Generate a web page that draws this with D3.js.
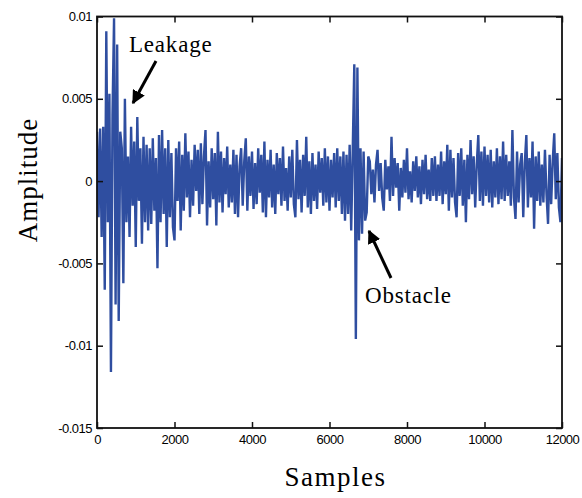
<!DOCTYPE html>
<html>
<head>
<meta charset="utf-8">
<script src="https://cdn.jsdelivr.net/npm/d3@7"></script>
<style>
  body { margin: 0; background: #fff; }
  svg { display: block; }
</style>
</head>
<body>
<svg width="582" height="498"></svg>
<script>
// amplitude readings, in units of 1e-3, one every 40 samples (0 .. 12000)
const ampUnit = 1e-3;
const sampleStep = 40;
const amplitude = [
  3.0, -2.2, 3.2, -3.4, 3.3, -6.6, 9.1, -2.5, 5.3, -11.6,
  4.0, 9.9, -7.5, 8.3, -8.5, 3.0, 2.0, -6.2, 5.0, -2.5,
  1.5, -3.4, 3.3, -1.5, 2.4, -4.0, 3.9, -1.2, 2.0, -3.8,
  2.7, -2.5, 2.2, -3.0, 2.0, -2.6, 2.6, -1.8, 1.4, -5.3,
  2.8, -2.5, 3.1, -2.0, 2.0, -4.0, 2.5, -2.2, 1.7, -2.8,
  -3.6, 2.0, -1.2, 2.4, -3.0, 1.6, -1.8, 2.9, -1.0, 1.8,
  -2.2, 1.3, -1.5, 2.2, -0.6, 1.9, -2.0, 2.3, -1.4, 1.5,
  3.1, -2.7, 1.2, -1.6, 2.0, -1.1, 1.7, -2.7, 3.0, -1.3,
  1.8, -1.9, 1.4, -0.8, 2.1, -1.6, 1.0, -1.3, 1.9, -2.0,
  1.6, -2.2, 0.9, 2.0, -1.5, 1.2, 2.6, -1.8, 1.5, -0.9,
  1.8, -1.7, 1.1, -1.4, 2.0, -0.7, 1.6, -1.9, 2.4, -2.2,
  1.3, -1.0, 1.9, -1.6, 1.0, -2.0, 1.7, -0.8, 1.4, -1.5,
  2.1, -1.2, 0.8, -1.8, 1.5, -1.0, 1.9, -1.4, -2.2, 2.5,
  -1.1, 1.3, -1.9, 1.6, -0.9, 2.7, -1.6, 1.2, -2.0, 1.7,
  -1.2, 1.0, -1.7, 1.8, -0.7, 1.4, -1.5, 2.0, -1.3, 1.5,
  -1.8, 1.3, -1.0, 1.7, -1.6, 2.0, -1.2, 1.5, -2.0, 1.8,
  -2.4, 1.6, -2.0, 2.2, -3.0, 1.9, 7.1, -9.6, 6.9, -3.6,
  2.0, -3.2, 1.8, -2.4, -1.9, 1.5, 1.2, -0.8, 0.7, -1.3,
  1.0, 1.9, -0.6, 1.1, -1.0, -1.8, 1.3, -0.5, 0.9, -1.2,
  2.7, -0.9, 1.4, -0.4, 1.1, -1.8, 0.8, -1.0, 1.3, -0.7,
  2.0, -1.1, 0.6, -1.3, 1.2, -0.6, 1.5, -1.0, 0.9, -1.4,
  1.3, -0.8, 1.6, -1.1, 0.7, -1.2, 1.4, -0.9, 1.5, -1.2,
  1.0, -0.9, 1.8, -1.4, 1.2, -0.8, 2.2, -1.8, 1.9, -1.0,
  1.4, -1.3, -2.2, 1.7, -0.9, 2.0, -1.5, 1.3, -2.5, 1.6,
  -1.1, 2.5, -0.8, 1.5, -1.6, 1.0, 2.8, -1.2, 1.8, -1.5,
  2.1, -0.9, 1.6, -1.3, 1.9, -1.6, 1.2, -1.0, 2.0, -1.4,
  1.5, -1.1, 2.4, -1.2, 1.6, -0.9, 1.2, -1.5, 3.1, -1.0,
  -2.3, 1.8, -1.3, 1.0, 1.7, -2.2, 1.1, 2.8, -1.6, 1.4,
  -1.0, 2.4, -2.9, 1.5, -1.2, 1.8, -1.5, 1.0, -1.3, 1.9,
  -0.8, -2.6, 1.6, -1.4, 1.2, 2.9, -1.1, 1.7, -1.6, -2.5,
  1.4
];

const xTicks = [0, 2000, 4000, 6000, 8000, 10000, 12000];
const xTickLabels = ["0", "2000", "4000", "6000", "8000", "10000", "12000"];
const yTicks = [0.01, 0.005, 0, -0.005, -0.01, -0.015];
const yTickLabels = ["0.01", "0.005", "0", "-0.005", "-0.01", "-0.015"];

const notes = [
  { text: "Leakage", x: 129, y: 52, tail: [156, 61], tip: [133, 103] },
  { text: "Obstacle", x: 365, y: 303, tail: [391, 278], tip: [369, 231] }
];

const svg = d3.select("svg");
const m = { left: 97, right: 562, top: 16.5, bottom: 428 };

const x = d3.scaleLinear().domain([0, 12000]).range([m.left, m.right]);
const y = d3.scaleLinear().domain([-0.015, 0.01]).range([m.bottom, m.top]);

const defs = svg.append("defs");
defs.append("clipPath").attr("id", "plot")
  .append("rect").attr("x", m.left).attr("y", m.top)
  .attr("width", m.right - m.left).attr("height", m.bottom - m.top);

const line = d3.line()
  .x((d, i) => x(i * sampleStep))
  .y(d => y(d * ampUnit));

svg.append("path")
  .datum(amplitude)
  .attr("clip-path", "url(#plot)")
  .attr("fill", "none")
  .attr("stroke", "#2f4ea0")
  .attr("stroke-width", 2.4)
  .attr("d", line);

// frame
svg.append("rect")
  .attr("x", m.left).attr("y", m.top)
  .attr("width", m.right - m.left).attr("height", m.bottom - m.top)
  .attr("fill", "none").attr("stroke", "#111").attr("stroke-width", 1.8);

const tickFont = g => g.selectAll("text")
  .attr("font-family", "Liberation Sans, Arial, sans-serif")
  .attr("font-size", 13)
  .attr("letter-spacing", -0.5)
  .attr("fill", "#000");

const styleAxis = g => {
  g.select(".domain").remove();
  g.selectAll("line").attr("stroke", "#111").attr("stroke-width", 1.5);
};

svg.append("g").attr("transform", `translate(0,${m.bottom})`)
  .call(d3.axisBottom(x).tickValues(xTicks).tickSize(-6).tickPadding(7)
    .tickFormat((d, i) => xTickLabels[i]))
  .call(styleAxis).call(tickFont);

svg.append("g").attr("transform", `translate(0,${m.top})`)
  .call(d3.axisTop(x).tickValues(xTicks).tickSize(-6).tickFormat(""))
  .call(styleAxis);

svg.append("g").attr("transform", `translate(${m.left},0)`)
  .call(d3.axisLeft(y).tickValues(yTicks).tickSize(-6).tickPadding(5)
    .tickFormat((d, i) => yTickLabels[i]))
  .call(styleAxis).call(tickFont);

svg.append("g").attr("transform", `translate(${m.right},0)`)
  .call(d3.axisRight(y).tickValues(yTicks).tickSize(-6).tickFormat(""))
  .call(styleAxis);

// axis titles
const serif = "Liberation Serif, Times New Roman, serif";
svg.append("text")
  .attr("x", (m.left + m.right) / 2 + 6).attr("y", 486)
  .attr("text-anchor", "middle")
  .attr("font-family", serif).attr("font-size", 27)
  .attr("letter-spacing", 1.5)
  .text("Samples");

svg.append("text")
  .attr("transform", "translate(37,180) rotate(-90)")
  .attr("text-anchor", "middle")
  .attr("font-family", serif).attr("font-size", 27)
  .attr("letter-spacing", 1)
  .text("Amplitude");

// annotations with arrows
defs.append("marker")
  .attr("id", "head").attr("viewBox", "0 0 10 10")
  .attr("refX", 9).attr("refY", 5)
  .attr("markerWidth", 4.5).attr("markerHeight", 4.5)
  .attr("orient", "auto")
  .append("path").attr("d", "M0,0L10,5L0,10Z").attr("fill", "#000");

notes.forEach(n => {
  svg.append("text")
    .attr("x", n.x).attr("y", n.y)
    .attr("font-family", serif).attr("font-size", 23)
    .attr("letter-spacing", 0.8)
    .text(n.text);
  svg.append("line")
    .attr("x1", n.tail[0]).attr("y1", n.tail[1])
    .attr("x2", n.tip[0]).attr("y2", n.tip[1])
    .attr("stroke", "#000").attr("stroke-width", 3)
    .attr("marker-end", "url(#head)");
});
</script>
</body>
</html>
